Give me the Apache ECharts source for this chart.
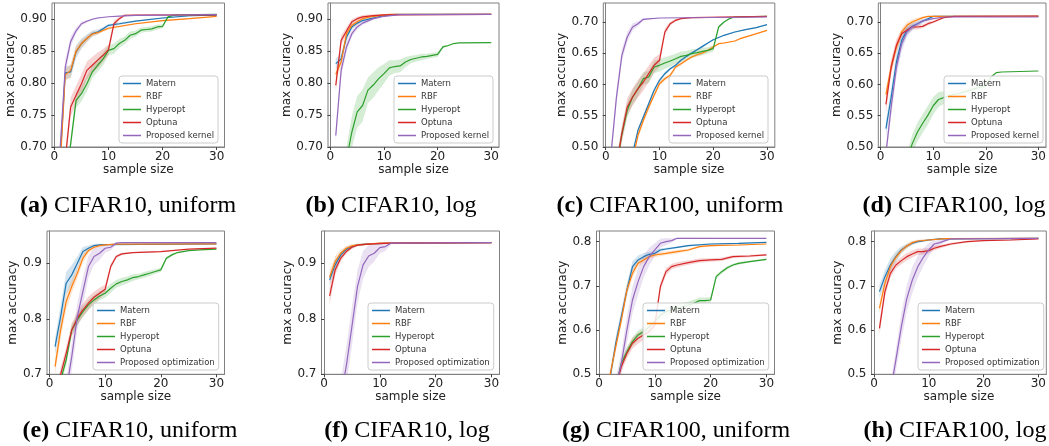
<!DOCTYPE html>
<html>
<head>
<meta charset="utf-8">
<script src="https://cdn.jsdelivr.net/npm/echarts@6/dist/echarts.min.js"></script>
<style>
html, body { margin: 0; padding: 0; background: #fff; }
#main { width: 1049px; height: 446px; }
</style>
</head>
<body>
<div id="main"></div>
<script>
// tick labels
var xTicks = [0, 10, 20, 30];
var yTicksC10 = [0.70, 0.75, 0.80, 0.85, 0.90];
var yTicksC100 = [0.50, 0.55, 0.60, 0.65, 0.70];
var yTicksC10b = [0.7, 0.8, 0.9];
var yTicksC100b = [0.5, 0.6, 0.7, 0.8];

var namesTop = ['Matern', 'RBF', 'Hyperopt', 'Optuna', 'Proposed kernel'];
var namesBottom = ['Matern', 'RBF', 'Hyperopt', 'Optuna', 'Proposed optimization'];
var captions = [
    ['(a)', 'CIFAR10, uniform'], ['(b)', 'CIFAR10, log'], ['(c)', 'CIFAR100, uniform'], ['(d)', 'CIFAR100, log'],
    ['(e)', 'CIFAR10, uniform'], ['(f)', 'CIFAR10, log'], ['(g)', 'CIFAR100, uniform'], ['(h)', 'CIFAR100, log']
];

// [sample size, mean max accuracy, half width of shaded band]
var a_matern = [[1,0.67,0],[2,0.816,0.01],[3,0.8175,0.01],[4,0.849,0.01],[5,0.862,0.008],[6,0.870,0.006],[7,0.8775,0.005],[8,0.880,0.004],[9,0.885,0.003],[10,0.8905,0.002],[12,0.893,0.002],[15,0.897,0.001],[20,0.902,0.001],[25,0.9055,0.001],[30,0.9065,0]];
var a_rbf = [[1,0.66,0],[2,0.813,0.01],[3,0.82,0.01],[4,0.85,0.008],[5,0.862,0.006],[6,0.870,0.005],[7,0.877,0.004],[8,0.879,0.003],[10,0.886,0.002],[15,0.893,0.001],[20,0.898,0.001],[25,0.901,0.001],[30,0.9045,0]];
var a_hyperopt = [[1,0.6,0],[2,0.64,0],[3,0.705,0.01],[4,0.773,0.012],[5,0.7835,0.012],[6,0.799,0.012],[7,0.8175,0.01],[8,0.828,0.01],[9,0.838,0.01],[10,0.8514,0.008],[11,0.854,0.008],[12,0.862,0.007],[13,0.867,0.006],[14,0.875,0.006],[15,0.8775,0.005],[16,0.883,0.004],[17,0.884,0.004],[18,0.885,0.004],[19,0.888,0.004],[20,0.889,0.003],[21,0.9037,0.002],[22,0.906,0.001],[23,0.907,0],[30,0.9078,0]];
var a_optuna = [[1,0.62,0],[2,0.68,0.01],[3,0.7627,0.015],[4,0.781,0.015],[5,0.799,0.015],[6,0.820,0.014],[7,0.828,0.013],[8,0.836,0.012],[9,0.8436,0.01],[10,0.8525,0.008],[11,0.893,0.005],[12,0.901,0.003],[13,0.9063,0.001],[15,0.9067,0],[30,0.9068,0]];
var a_proposed = [[1,0.69,0.01],[2,0.825,0.012],[3,0.865,0.008],[4,0.882,0.005],[5,0.893,0.003],[6,0.897,0.002],[7,0.900,0.001],[8,0.902,0.001],[10,0.904,0],[12,0.905,0],[15,0.906,0],[20,0.9065,0],[30,0.9075,0]];

var b_matern = [[1,0.8305,0.008],[2,0.838,0.008],[3,0.872,0.006],[4,0.888,0.004],[5,0.894,0.003],[6,0.898,0.002],[8,0.902,0.002],[10,0.9058,0.001],[12,0.9078,0],[30,0.9078,0]];
var b_rbf = [[1,0.814,0.008],[2,0.833,0.008],[3,0.8775,0.006],[4,0.8906,0.004],[5,0.896,0.004],[6,0.901,0.003],[8,0.9047,0.002],[11,0.9078,0],[30,0.9078,0]];
var b_hyperopt = [[1,0.6,0],[2,0.64,0],[3,0.68,0.02],[4,0.7235,0.025],[5,0.755,0.025],[6,0.765,0.025],[7,0.789,0.02],[8,0.797,0.02],[9,0.807,0.018],[10,0.815,0.015],[11,0.8238,0.012],[12,0.826,0.01],[13,0.827,0.01],[14,0.833,0.008],[15,0.837,0.006],[16,0.839,0.005],[17,0.841,0.005],[18,0.842,0.004],[19,0.8436,0.004],[20,0.845,0.004],[21,0.8567,0.002],[22,0.859,0.001],[23,0.862,0],[24,0.863,0],[30,0.8634,0]];
var b_optuna = [[1,0.7966,0.01],[2,0.867,0.008],[3,0.8817,0.006],[4,0.896,0.004],[5,0.901,0.003],[6,0.9037,0.003],[8,0.9058,0.002],[10,0.9068,0.001],[30,0.9078,0]];
var b_proposed = [[1,0.718,0.01],[2,0.820,0.01],[3,0.8567,0.008],[4,0.8775,0.005],[5,0.888,0.004],[6,0.894,0.003],[8,0.901,0.002],[10,0.9047,0.001],[13,0.9073,0],[30,0.9078,0]];

var c_matern = [[1,0.35,0],[5,0.49,0],[6,0.5267,0.004],[7,0.548,0.004],[8,0.5693,0.004],[9,0.5907,0.003],[10,0.6067,0.003],[11,0.6173,0.003],[12,0.6253,0.002],[13,0.6307,0.002],[14,0.6387,0.002],[15,0.645,0.002],[16,0.6504,0.002],[17,0.6557,0.002],[18,0.661,0.002],[19,0.6664,0.001],[20,0.6717,0.001],[22,0.6787,0.001],[24,0.684,0.001],[26,0.6877,0.001],[28,0.691,0.001],[30,0.6957,0]];
var c_rbf = [[1,0.33,0],[5,0.48,0.004],[6,0.5187,0.005],[7,0.5427,0.005],[8,0.564,0.005],[9,0.5827,0.004],[10,0.6013,0.004],[11,0.6093,0.003],[12,0.6147,0.003],[13,0.628,0.003],[14,0.6333,0.003],[15,0.6387,0.002],[16,0.644,0.002],[17,0.6477,0.002],[18,0.6504,0.002],[19,0.6547,0.002],[20,0.66,0.002],[21,0.6653,0.001],[22,0.6664,0.001],[24,0.6696,0.001],[25,0.6733,0.001],[27,0.6787,0.001],[30,0.6867,0]];
var c_hyperopt = [[1,0.42,0],[2,0.47,0.01],[3,0.52,0.012],[4,0.5587,0.012],[5,0.58,0.012],[6,0.593,0.012],[7,0.6093,0.01],[8,0.612,0.01],[9,0.628,0.01],[10,0.6307,0.01],[11,0.6344,0.009],[12,0.6376,0.009],[13,0.6413,0.008],[14,0.645,0.008],[15,0.6467,0.007],[16,0.6493,0.007],[17,0.651,0.006],[18,0.653,0.006],[19,0.6547,0.005],[20,0.6573,0.005],[21,0.692,0.002],[22,0.70,0.001],[23,0.7053,0],[24,0.708,0],[30,0.709,0]];
var c_optuna = [[1,0.42,0],[2,0.47,0.01],[3,0.5213,0.012],[4,0.564,0.014],[5,0.58,0.014],[6,0.5933,0.014],[7,0.604,0.014],[8,0.6173,0.013],[9,0.6307,0.012],[10,0.6387,0.01],[11,0.684,0.006],[12,0.6973,0.003],[13,0.7027,0.002],[14,0.7053,0.001],[16,0.707,0],[30,0.709,0]];
var c_proposed = [[1,0.49,0.01],[2,0.58,0.012],[3,0.6467,0.01],[4,0.676,0.008],[5,0.692,0.006],[6,0.6973,0.004],[7,0.7043,0.002],[8,0.705,0.001],[10,0.7064,0],[30,0.708,0]];

var d_matern = [[1,0.5293,0.012],[2,0.58,0.015],[3,0.636,0.015],[4,0.6707,0.012],[5,0.6867,0.008],[6,0.693,0.006],[7,0.6973,0.004],[8,0.7016,0.003],[9,0.7053,0.002],[10,0.709,0.001],[30,0.709,0]];
var d_rbf = [[1,0.5843,0.01],[2,0.628,0.01],[3,0.66,0.008],[4,0.684,0.006],[5,0.6947,0.005],[6,0.70,0.004],[7,0.7037,0.003],[8,0.707,0.002],[9,0.709,0.001],[30,0.709,0]];
var d_hyperopt = [[1,0.40,0],[5,0.48,0.01],[6,0.505,0.015],[7,0.524,0.015],[8,0.538,0.015],[9,0.551,0.015],[10,0.566,0.014],[11,0.576,0.012],[12,0.579,0.01],[13,0.582,0.008],[15,0.586,0.006],[17,0.591,0.005],[19,0.596,0.004],[20,0.598,0.003],[21,0.612,0.002],[22,0.619,0.001],[23,0.620,0],[30,0.6216,0]];
var d_optuna = [[1,0.5683,0.015],[2,0.628,0.012],[3,0.6627,0.01],[4,0.6813,0.006],[5,0.6867,0.004],[6,0.692,0.004],[7,0.692,0.004],[8,0.693,0.003],[9,0.6973,0.003],[10,0.70,0.002],[11,0.7037,0.002],[12,0.707,0.001],[14,0.709,0],[30,0.7096,0]];
var d_proposed = [[1,0.49,0.01],[2,0.564,0.015],[3,0.628,0.015],[4,0.6653,0.012],[5,0.684,0.008],[6,0.692,0.005],[7,0.6973,0.004],[8,0.7016,0.003],[10,0.7053,0.001],[12,0.708,0],[30,0.708,0]];

var e_matern = [[1,0.7498,0.015],[2,0.804,0.02],[3,0.864,0.02],[4,0.879,0.018],[5,0.900,0.012],[6,0.921,0.008],[7,0.927,0.005],[8,0.9318,0.003],[9,0.933,0.002],[10,0.9336,0.001],[30,0.9348,0]];
var e_rbf = [[1,0.7138,0.015],[2,0.7799,0.015],[3,0.831,0.015],[4,0.858,0.012],[5,0.882,0.01],[6,0.909,0.008],[7,0.9228,0.005],[8,0.9288,0.003],[9,0.9318,0.002],[10,0.933,0.001],[12,0.9342,0],[30,0.9348,0]];
var e_hyperopt = [[1,0.64,0],[2,0.69,0.01],[3,0.7258,0.01],[4,0.7799,0.01],[5,0.7979,0.01],[6,0.8129,0.01],[7,0.8249,0.009],[8,0.8339,0.009],[9,0.8411,0.008],[10,0.846,0.008],[11,0.855,0.008],[12,0.8628,0.007],[13,0.867,0.007],[14,0.87,0.006],[15,0.8742,0.006],[16,0.876,0.005],[17,0.879,0.005],[18,0.882,0.005],[19,0.885,0.004],[20,0.888,0.004],[21,0.909,0.003],[22,0.915,0.002],[23,0.9192,0.001],[25,0.9228,0.001],[27,0.924,0],[30,0.9252,0]];
var e_optuna = [[1,0.65,0.01],[2,0.70,0.012],[3,0.7378,0.012],[4,0.7799,0.012],[5,0.801,0.012],[6,0.8159,0.012],[7,0.828,0.012],[8,0.8387,0.01],[9,0.846,0.01],[10,0.8532,0.008],[11,0.894,0.005],[12,0.912,0.003],[13,0.9168,0.002],[15,0.9192,0.001],[20,0.921,0.001],[25,0.9252,0],[30,0.927,0]];
var e_proposed = [[1,0.60,0],[3,0.67,0.02],[4,0.7318,0.025],[5,0.804,0.025],[6,0.849,0.025],[7,0.894,0.02],[8,0.912,0.015],[9,0.918,0.012],[10,0.927,0.008],[11,0.9288,0.006],[12,0.936,0.002],[13,0.9372,0],[30,0.9372,0]];

var f_matern = [[1,0.87,0.01],[2,0.897,0.01],[3,0.915,0.006],[4,0.9252,0.004],[5,0.93,0.003],[6,0.933,0.002],[8,0.9348,0.001],[12,0.936,0],[30,0.9372,0]];
var f_rbf = [[1,0.8748,0.012],[2,0.903,0.01],[3,0.918,0.006],[4,0.927,0.004],[5,0.9312,0.003],[6,0.933,0.002],[10,0.936,0.001],[30,0.9372,0]];
var f_hyperopt = [];
var f_optuna = [[1,0.8411,0.015],[2,0.888,0.01],[3,0.909,0.006],[4,0.921,0.004],[5,0.9288,0.003],[6,0.9324,0.002],[8,0.9342,0.001],[12,0.936,0],[30,0.9372,0]];
var f_proposed = [[1,0.55,0],[3,0.66,0.03],[4,0.715,0.035],[5,0.786,0.035],[6,0.858,0.03],[7,0.897,0.025],[8,0.913,0.02],[9,0.918,0.015],[10,0.928,0.01],[11,0.93,0.008],[12,0.936,0.002],[30,0.9372,0]];

var g_matern = [[1,0.44,0],[2,0.494,0.01],[3,0.5701,0.015],[4,0.6304,0.015],[5,0.6907,0.015],[6,0.7434,0.012],[7,0.7585,0.01],[8,0.766,0.008],[9,0.7713,0.006],[10,0.7735,0.005],[11,0.7811,0.004],[12,0.7833,0.003],[14,0.7871,0.002],[16,0.7909,0.002],[20,0.7946,0.001],[25,0.7962,0.001],[30,0.7984,0]];
var g_rbf = [[1,0.45,0.01],[2,0.50,0.012],[3,0.5625,0.012],[4,0.6228,0.012],[5,0.6907,0.012],[6,0.7283,0.01],[7,0.7509,0.008],[8,0.7585,0.007],[9,0.766,0.006],[10,0.7698,0.005],[12,0.7735,0.004],[14,0.7773,0.004],[16,0.7811,0.003],[18,0.7886,0.002],[20,0.7909,0.002],[25,0.7924,0.001],[30,0.7946,0]];
var g_hyperopt = [[1,0.40,0],[3,0.47,0.01],[4,0.525,0.01],[5,0.5512,0.01],[6,0.5739,0.01],[7,0.5889,0.01],[8,0.5965,0.01],[9,0.6078,0.01],[10,0.6191,0.01],[11,0.6341,0.01],[12,0.6417,0.01],[13,0.6454,0.01],[14,0.6492,0.009],[15,0.653,0.009],[16,0.6567,0.008],[17,0.6605,0.008],[18,0.6665,0.007],[19,0.6665,0.007],[20,0.668,0.006],[21,0.7208,0.005],[22,0.7321,0.004],[23,0.7411,0.004],[24,0.7472,0.003],[25,0.7509,0.003],[27,0.7547,0.002],[30,0.76,0.002]];
var g_optuna = [[1,0.40,0],[3,0.47,0.01],[4,0.5173,0.012],[5,0.5475,0.012],[6,0.5701,0.012],[7,0.5814,0.012],[8,0.5889,0.012],[9,0.5965,0.012],[10,0.6115,0.012],[11,0.6982,0.01],[12,0.7321,0.008],[13,0.7434,0.006],[14,0.7472,0.006],[16,0.7525,0.005],[18,0.757,0.005],[20,0.7585,0.004],[22,0.76,0.004],[24,0.766,0.003],[27,0.7675,0.003],[30,0.7698,0.002]];
var g_proposed = [[1,0.40,0],[3,0.47,0.02],[4,0.5249,0.025],[5,0.6002,0.03],[6,0.668,0.03],[7,0.7095,0.03],[8,0.7434,0.025],[9,0.766,0.02],[10,0.7811,0.015],[11,0.7962,0.01],[12,0.8,0.008],[13,0.8022,0.005],[14,0.8075,0.001],[30,0.8075,0]];

var h_matern = [[1,0.6869,0.015],[2,0.7208,0.015],[3,0.7472,0.015],[4,0.766,0.012],[5,0.7811,0.008],[6,0.7901,0.005],[7,0.7962,0.004],[8,0.8,0.003],[10,0.8037,0.002],[12,0.806,0.001],[30,0.8075,0]];
var h_rbf = [[1,0.6492,0.012],[2,0.7057,0.012],[3,0.7434,0.01],[4,0.7645,0.008],[5,0.7796,0.006],[6,0.7901,0.005],[7,0.7977,0.004],[8,0.8014,0.003],[10,0.8037,0.002],[13,0.8067,0.001],[30,0.8075,0]];
var h_hyperopt = [];
var h_optuna = [[1,0.604,0.015],[2,0.6869,0.012],[3,0.7283,0.01],[4,0.7472,0.008],[5,0.757,0.008],[6,0.766,0.008],[7,0.772,0.008],[8,0.7773,0.007],[9,0.7773,0.007],[10,0.7796,0.006],[11,0.7849,0.005],[12,0.7886,0.004],[14,0.7946,0.003],[17,0.8,0.002],[20,0.8022,0.001],[25,0.8037,0.001],[30,0.806,0]];
var h_proposed = [[1,0.40,0],[3,0.46,0.02],[4,0.5324,0.025],[5,0.6078,0.03],[6,0.6718,0.03],[7,0.7133,0.03],[8,0.7434,0.025],[9,0.7645,0.02],[10,0.7811,0.015],[11,0.7946,0.008],[12,0.7977,0.006],[13,0.8022,0.003],[14,0.806,0.001],[30,0.8075,0]];

var colors = ['#1f77b4', '#ff7f0e', '#2ca02c', '#d62728', '#9467bd'];
var bandColors = ['rgba(31,119,180,0.2)', 'rgba(255,127,14,0.2)', 'rgba(44,160,44,0.2)', 'rgba(214,39,40,0.2)', 'rgba(148,103,189,0.2)'];

var panels = [
    { lines: [a_matern, a_rbf, a_hyperopt, a_optuna, a_proposed], names: namesTop, yMin: 0.70, yMax: 0.9255, yTicks: yTicksC10, dec: 2 },
    { lines: [b_matern, b_rbf, b_hyperopt, b_optuna, b_proposed], names: namesTop, yMin: 0.70, yMax: 0.9255, yTicks: yTicksC10, dec: 2 },
    { lines: [c_matern, c_rbf, c_hyperopt, c_optuna, c_proposed], names: namesTop, yMin: 0.50, yMax: 0.7304, yTicks: yTicksC100, dec: 2 },
    { lines: [d_matern, d_rbf, d_hyperopt, d_optuna, d_proposed], names: namesTop, yMin: 0.50, yMax: 0.7304, yTicks: yTicksC100, dec: 2 },
    { lines: [e_matern, e_rbf, e_hyperopt, e_optuna, e_proposed], names: namesBottom, yMin: 0.7, yMax: 0.958, yTicks: yTicksC10b, dec: 1 },
    { lines: [f_matern, f_rbf, f_hyperopt, f_optuna, f_proposed], names: namesBottom, yMin: 0.7, yMax: 0.958, yTicks: yTicksC10b, dec: 1 },
    { lines: [g_matern, g_rbf, g_hyperopt, g_optuna, g_proposed], names: namesBottom, yMin: 0.5, yMax: 0.824, yTicks: yTicksC100b, dec: 1 },
    { lines: [h_matern, h_rbf, h_hyperopt, h_optuna, h_proposed], names: namesBottom, yMin: 0.5, yMax: 0.824, yTicks: yTicksC100b, dec: 1 }
];

// layout: grid box, legend corner, y name gap, caption centre
var layout = [
    { left: 52, top: 3, width: 172.5, height: 144, lg: [119, 76], gap: 34, cap: [128, 206] },
    { left: 328, top: 3, width: 171, height: 144, lg: [394, 76], gap: 34, cap: [391, 206] },
    { left: 603.3, top: 3, width: 171.5, height: 144, lg: [669, 76], gap: 34, cap: [670, 206] },
    { left: 878.3, top: 3, width: 171.5, height: 144, lg: [944, 76], gap: 34, cap: [954, 206] },
    { left: 47, top: 231, width: 177.5, height: 143.3, lg: [93, 303], gap: 27, cap: [130, 431] },
    { left: 321.5, top: 231, width: 178, height: 143.3, lg: [368, 303], gap: 27, cap: [407, 431] },
    { left: 596.5, top: 231, width: 178, height: 143.3, lg: [643, 303], gap: 27, cap: [676, 431] },
    { left: 871.5, top: 231, width: 178, height: 143.3, lg: [918, 303], gap: 27, cap: [955, 431] }
];

// shaded band: one polygon through (x, mean+w) and back along (x, mean-w)
function renderBand(color) {
    return function (params, api) {
        if (params.dataIndex !== 0) return null;
        var n = params.dataInsideLength, upper = [], lower = [];
        for (var k = 0; k < n; k++) {
            upper.push(api.coord([api.value(0, k), api.value(2, k)]));
            lower.unshift(api.coord([api.value(0, k), api.value(1, k)]));
        }
        var cs = params.coordSys;
        return {
            type: 'polygon',
            shape: { points: upper.concat(lower) },
            style: { fill: color },
            clipPath: { type: 'rect', shape: { x: cs.x, y: cs.y, width: cs.width, height: cs.height } }
        };
    };
}

var font = 'DejaVu Sans';
var grids = [], xAxes = [], yAxes = [], legends = [], series = [], graphics = [];

panels.forEach(function (p, i) {
    var L = layout[i];
    grids.push({ left: L.left, top: L.top, width: L.width, height: L.height, show: true, borderColor: '#808080', borderWidth: 1, backgroundColor: 'transparent' });
    xAxes.push({
        type: 'value', gridIndex: i, min: -0.45, max: 31.45,
        name: 'sample size', nameLocation: 'middle', nameGap: 16,
        nameTextStyle: { fontFamily: font, fontSize: 12, color: '#222' },
        axisLine: { show: true, lineStyle: { color: '#808080' } },
        axisTick: { show: true, length: 3, customValues: xTicks, lineStyle: { color: '#444' } },
        axisLabel: { customValues: xTicks, margin: 4, fontFamily: font, fontSize: 12, color: '#222' },
        splitLine: { show: false }
    });
    yAxes.push({
        type: 'value', gridIndex: i, min: p.yMin, max: p.yMax,
        name: 'max accuracy', nameLocation: 'middle', nameGap: L.gap,
        nameTextStyle: { fontFamily: font, fontSize: 12, color: '#222' },
        axisLine: { show: true, lineStyle: { color: '#808080' } },
        axisTick: { show: true, length: 3, customValues: p.yTicks, lineStyle: { color: '#444' } },
        axisLabel: { customValues: p.yTicks, margin: 5, fontFamily: font, fontSize: 12, color: '#222',
            formatter: (function (d) { return function (v) { return v.toFixed(d); }; })(p.dec) },
        splitLine: { show: false }
    });
    legends.push({
        left: L.lg[0], top: L.lg[1], orient: 'vertical', data: p.names, icon: 'rect',
        itemWidth: 18, itemHeight: 1.5, itemGap: 4, padding: [3, 4, 3, 4],
        backgroundColor: 'rgba(255,255,255,0.85)', borderColor: '#cccccc', borderWidth: 1, borderRadius: 3,
        selectedMode: false, textStyle: { fontFamily: font, fontSize: 8.5, color: '#333' }
    });
    p.lines.forEach(function (d, j) {
        var hasBand = d.some(function (q) { return q[2] > 0; });
        if (hasBand) {
            series.push({
                type: 'custom', xAxisIndex: i, yAxisIndex: i, silent: true, z: 1,
                data: d.map(function (q) { return [q[0], q[1] - q[2], q[1] + q[2]]; }),
                encode: { x: 0, y: [1, 2] },
                renderItem: renderBand(bandColors[j])
            });
        }
        series.push({
            type: 'line', name: p.names[j], xAxisIndex: i, yAxisIndex: i,
            data: d.map(function (q) { return [q[0], q[1]]; }),
            symbol: 'none', color: colors[j], lineStyle: { width: 1.2, color: colors[j] }, z: 3
        });
    });
    graphics.push({
        type: 'text', x: L.cap[0], y: L.cap[1],
        style: {
            text: '{b|' + captions[i][0] + '} ' + captions[i][1],
            fontFamily: 'Liberation Serif', fontSize: 24, fill: '#000',
            align: 'center', verticalAlign: 'middle',
            rich: { b: { fontFamily: 'Liberation Serif', fontSize: 24, fontWeight: 'bold', fill: '#000' } }
        }
    });
});

var chart = echarts.init(document.getElementById('main'));
chart.setOption({
    animation: false,
    backgroundColor: '#fff',
    grid: grids,
    xAxis: xAxes,
    yAxis: yAxes,
    legend: legends,
    series: series,
    graphic: graphics
});
</script>
</body>
</html>
